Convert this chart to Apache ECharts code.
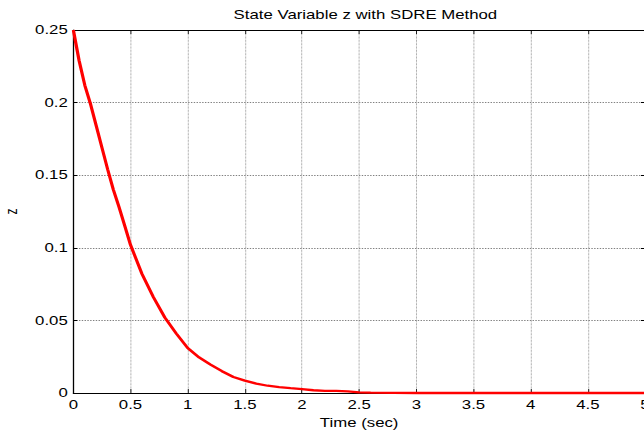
<!DOCTYPE html>
<html>
<head>
<meta charset="utf-8">
<script src="https://cdn.jsdelivr.net/npm/echarts@6/dist/echarts.min.js"></script>
<style>
html,body{margin:0;padding:0;background:#fff;overflow:hidden;width:644px;height:434px;}
#c{width:460px;height:434px;transform:scaleX(1.4);transform-origin:0 0;}
</style>
</head>
<body>
<div id="c"></div>
<script>
const chartTitle = 'State Variable z with SDRE Method';
const xName = 'Time (sec)';
const yName = 'z';
const timeSec = [0, 0.05, 0.1, 0.15, 0.2, 0.25, 0.3, 0.35, 0.4, 0.45, 0.5, 0.6, 0.7, 0.8, 0.9, 1.0, 1.1, 1.2, 1.3, 1.4, 1.5, 1.6, 1.7, 1.8, 1.9, 2.0, 2.1, 2.2, 2.3, 2.4, 2.5, 2.6, 3.0, 3.5, 4.0, 4.5, 5.0];
const zValues = [0.25, 0.229, 0.212, 0.199, 0.184, 0.169, 0.154, 0.140, 0.128, 0.115, 0.102, 0.082, 0.066, 0.052, 0.041, 0.031, 0.0245, 0.0195, 0.015, 0.011, 0.0085, 0.0065, 0.005, 0.004, 0.0033, 0.0027, 0.0019, 0.0015, 0.0014, 0.0011, 0.0004, 0.0002, 0, 0, 0, 0, 0];
const xTicks = {min: 0, max: 5, step: 0.5};
const yTicks = {min: 0, max: 0.25, step: 0.05};

const font = 'Liberation Sans, Arial, sans-serif';
const chart = echarts.init(document.getElementById('c'), null, {renderer: 'svg'});
const gridColor = '#808080';
const sx = 1 / 1.4;

chart.setOption({
  animation: false,
  backgroundColor: '#fff',
  title: {
    text: chartTitle,
    left: 256, top: 4, textAlign: 'center',
    textStyle: {fontFamily: font, fontSize: 12, fontWeight: 'normal', color: '#000'}
  },
  grid: {left: 52.4, top: 30, width: 408.3, bottom: 41, containLabel: false, outerBoundsMode: 'none'},
  xAxis: [{
    type: 'value', position: 'bottom',
    min: xTicks.min, max: xTicks.max, interval: xTicks.step,
    name: xName, nameLocation: 'middle', nameGap: 24,
    nameTextStyle: {fontFamily: font, fontSize: 12, color: '#000'},
    axisLine: {show: true, onZero: false, lineStyle: {color: '#000', width: 1}},
    axisTick: {show: true, inside: true, length: 4, lineStyle: {color: '#000', width: sx}},
    axisLabel: {fontFamily: font, fontSize: 12, color: '#000', margin: 6, showMaxLabel: true, showMinLabel: true},
    splitLine: {show: true, lineStyle: {color: gridColor, type: 'dotted', width: sx}}
  }, {
    type: 'value', position: 'top',
    min: xTicks.min, max: xTicks.max, interval: xTicks.step,
    axisLine: {show: true, onZero: false, lineStyle: {color: '#000', width: 1}},
    axisTick: {show: true, inside: true, length: 4, lineStyle: {color: '#000', width: sx}},
    axisLabel: {show: false},
    splitLine: {show: false}
  }],
  yAxis: [{
    type: 'value', position: 'left',
    min: yTicks.min, max: yTicks.max, interval: yTicks.step,
    name: yName, nameLocation: 'middle', nameGap: 35, nameRotate: 90,
    nameTextStyle: {fontFamily: font, fontSize: 12, color: '#000'},
    axisLine: {show: true, onZero: false, lineStyle: {color: '#000', width: 1.3 * sx}},
    axisTick: {show: true, inside: true, length: 4 * sx, lineStyle: {color: '#000', width: 1}},
    axisLabel: {fontFamily: font, fontSize: 12, color: '#000', margin: 4},
    splitLine: {show: true, lineStyle: {color: gridColor, type: 'dotted', width: 1}}
  }, {
    type: 'value', position: 'right',
    min: yTicks.min, max: yTicks.max, interval: yTicks.step,
    axisLine: {show: true, onZero: false, lineStyle: {color: '#000', width: sx}},
    axisTick: {show: true, inside: true, length: 4 * sx, lineStyle: {color: '#000', width: 1}},
    axisLabel: {show: false},
    splitLine: {show: false}
  }],
  series: [{
    type: 'line',
    data: timeSec.map((t, i) => [t, zValues[i]]),
    showSymbol: false,
    clip: false,
    lineStyle: {color: '#ff0000', width: 2.3},
    itemStyle: {color: '#ff0000'}
  }]
});
</script>
</body>
</html>
